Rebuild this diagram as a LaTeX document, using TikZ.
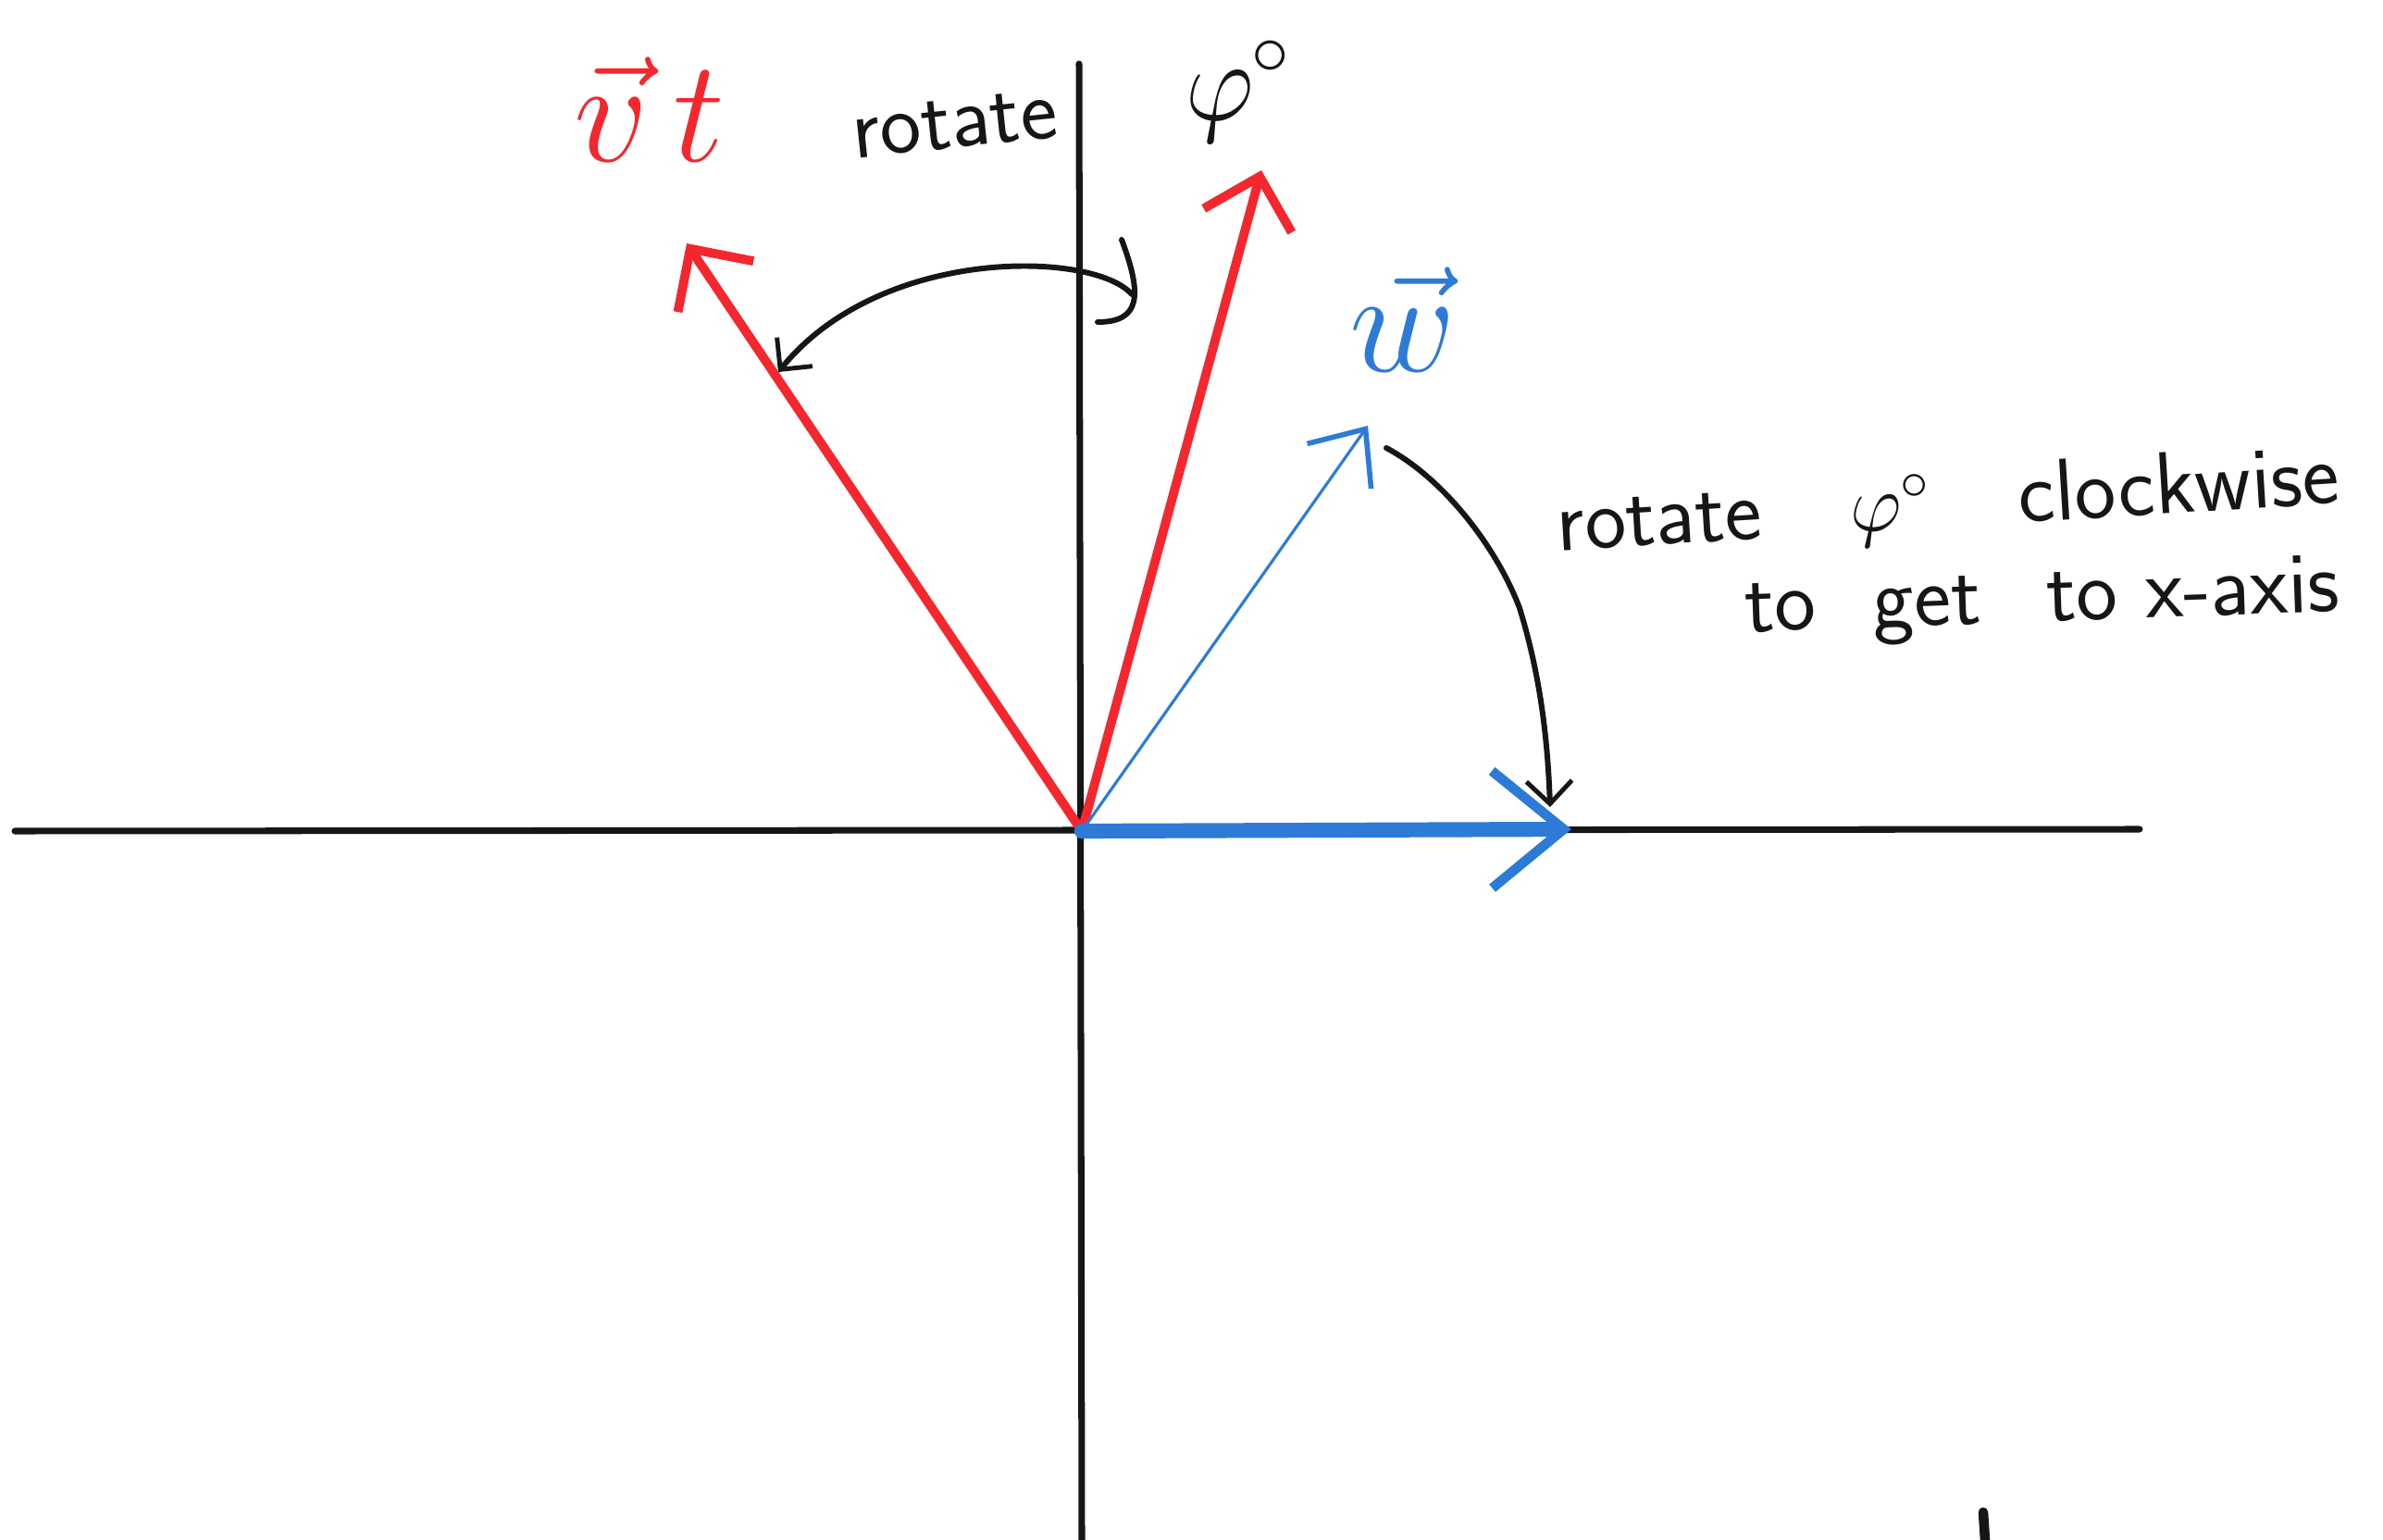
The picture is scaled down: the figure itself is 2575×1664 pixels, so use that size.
\documentclass[tikz,border=0pt]{standalone}
\usetikzlibrary{positioning, arrows.meta}
\definecolor{penRed}{HTML}{F4272E}
\definecolor{penBlue}{HTML}{2D7BD7}
\definecolor{penInk}{HTML}{161616}

\begin{document}
\begin{tikzpicture}[x=0.01cm, y=-0.01cm, line cap=round,
    axis/.style={draw=penInk, line width=2pt},
    vecRed/.style={draw=penRed, line width=2.8pt,
      -{Straight Barb[length=14pt, width=28pt, line width=2.8pt]}},
    vecBlue/.style={draw=penBlue, line width=0.9pt,
      -{Straight Barb[length=14pt, width=24pt, line width=1.6pt]}},
    vecBlueThick/.style={draw=penBlue, line width=4.6pt,
      -{Straight Barb[length=22pt, width=36pt, line width=3pt]}},
    turn/.style={draw=penInk, line width=1.7pt,
      -{Straight Barb[length=7pt, width=14pt, line width=1.4pt]}},
    note/.style={font=\sffamily\fontsize{27}{31}\selectfont, text=penInk, inner sep=0pt},
    vecLabel/.style={font=\LARGE, scale=2.6, transform shape, inner sep=0pt}]
  \useasboundingbox (0,0) rectangle (2575,1664);

  % axes
  \coordinate (O) at (1169,898);
  \coordinate (xL) at (16,898);
  \coordinate (xR) at (2312,896);
  \coordinate (yT) at (1166,69);
  \coordinate (yB) at (1169,1664);
  \draw[axis] (xL) -- (xR);
  \draw[axis] (yT) -- (yB);

  % vectors
  \coordinate (vtTip) at (742,263);
  \coordinate (vTip) at (1363,184);
  \coordinate (wTip) at (1478,460);
  \coordinate (wxTip) at (1698,896);
  \draw[vecRed] (O) -- (vtTip);
  \draw[vecRed] (O) -- (vTip);
  \draw[vecBlue] (O) -- (wTip);
  \draw[vecBlueThick] (O) -- (wxTip);

  % labels of the vectors
  \node[vecLabel, text=penRed] (lblVt) at (702,118) {$\vec{v}\,t$};
  \node[vecLabel, text=penBlue] (lblW) at (1516,345) {$\vec{w}$};

  % first turn: from the y-axis back to v t
  \coordinate (hookTop) at (1212,259);
  \coordinate (turnA) at (1223,318);
  \coordinate (turnB) at (841,402);
  \draw[penInk, line width=1.7pt] (hookTop) .. controls (1235,320) and (1232,348) .. (1186,348);
  \draw[turn] (turnA) .. controls (1182,271) and (952,265) .. (turnB);
  \node[note, rotate=6] (lblRot) at (1160,118)
    {rotate\hspace{1.4cm}\scalebox{1.35}{$\varphi^{\circ}$}};

  % second turn: from w down to the x-axis
  \coordinate (turnC) at (1498,484);
  \coordinate (turnD) at (1675,872);
  \draw[turn] (turnC) .. controls (1560,517) and (1617,591) .. (1642,657)
    .. controls (1662,722) and (1672,788) .. (turnD);
  \node[note, rotate=3.5] (lblClock) at (2105,545)
    {rotate\quad$\varphi^{\circ}$\quad clockwise};
  \node[note, rotate=2, anchor=west] (lblAxis) at (1885,662)
    {to\hspace{0.65em}get\hspace{0.75em}to x-axis};

  % stray mark
  \coordinate (markA) at (2143,1634);
  \coordinate (markB) at (2145,1664);
  \draw[penInk, line width=3pt] (markA) -- (markB);
\end{tikzpicture}
\end{document}
